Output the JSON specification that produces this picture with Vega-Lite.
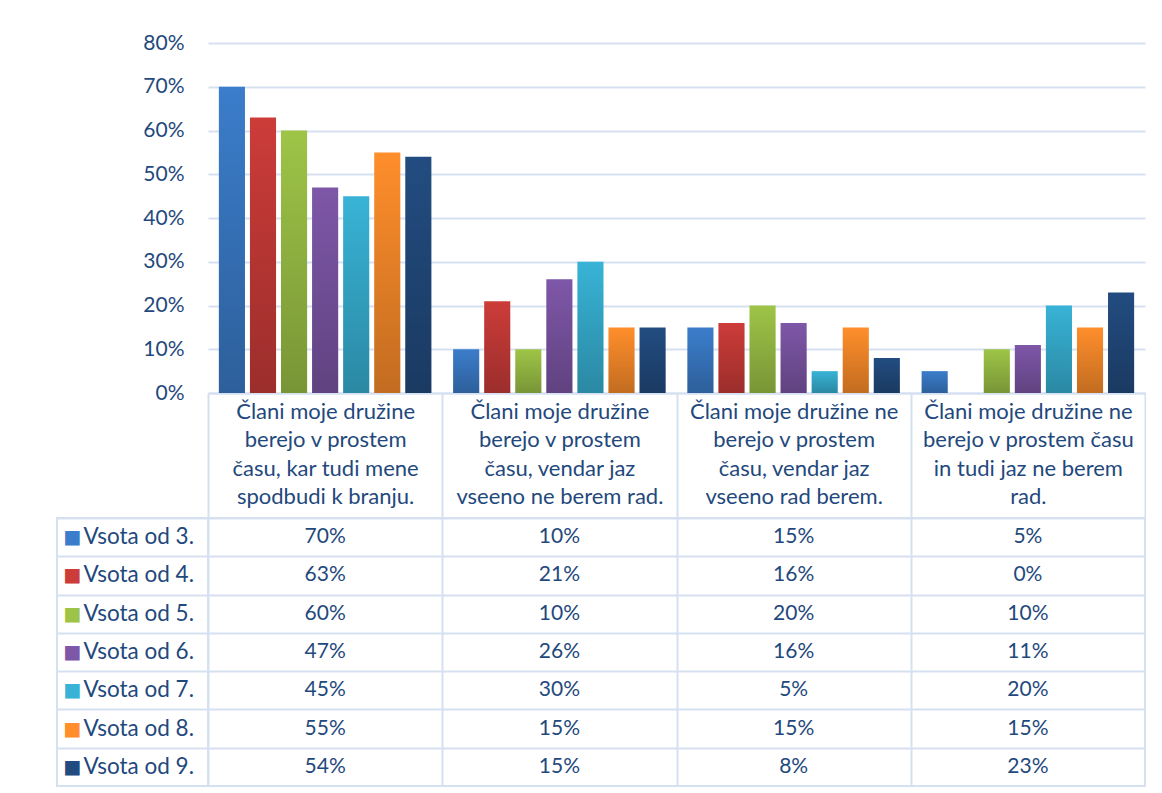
{
  "$schema": "https://vega.github.io/schema/vega-lite/v6.json",
  "padding": {"left": 56, "top": 32, "right": 0, "bottom": 0},
  "autosize": {"type": "pad"},
  "config": {"font": "Lato", "view": {"stroke": null}},
  "columns": 2,
  "spacing": {"row": 125, "column": 0},
  "bounds": "flush",
  "datasets": {
    "d": [
      {"cat": "Člani moje družine|berejo v prostem|času, kar tudi mene|spodbudi k branju.", "series": "Vsota od 3.", "value": 0.70},
      {"cat": "Člani moje družine|berejo v prostem|času, kar tudi mene|spodbudi k branju.", "series": "Vsota od 4.", "value": 0.63},
      {"cat": "Člani moje družine|berejo v prostem|času, kar tudi mene|spodbudi k branju.", "series": "Vsota od 5.", "value": 0.60},
      {"cat": "Člani moje družine|berejo v prostem|času, kar tudi mene|spodbudi k branju.", "series": "Vsota od 6.", "value": 0.47},
      {"cat": "Člani moje družine|berejo v prostem|času, kar tudi mene|spodbudi k branju.", "series": "Vsota od 7.", "value": 0.45},
      {"cat": "Člani moje družine|berejo v prostem|času, kar tudi mene|spodbudi k branju.", "series": "Vsota od 8.", "value": 0.55},
      {"cat": "Člani moje družine|berejo v prostem|času, kar tudi mene|spodbudi k branju.", "series": "Vsota od 9.", "value": 0.54},
      {"cat": "Člani moje družine|berejo v prostem|času, vendar jaz|vseeno ne berem rad.", "series": "Vsota od 3.", "value": 0.10},
      {"cat": "Člani moje družine|berejo v prostem|času, vendar jaz|vseeno ne berem rad.", "series": "Vsota od 4.", "value": 0.21},
      {"cat": "Člani moje družine|berejo v prostem|času, vendar jaz|vseeno ne berem rad.", "series": "Vsota od 5.", "value": 0.10},
      {"cat": "Člani moje družine|berejo v prostem|času, vendar jaz|vseeno ne berem rad.", "series": "Vsota od 6.", "value": 0.26},
      {"cat": "Člani moje družine|berejo v prostem|času, vendar jaz|vseeno ne berem rad.", "series": "Vsota od 7.", "value": 0.30},
      {"cat": "Člani moje družine|berejo v prostem|času, vendar jaz|vseeno ne berem rad.", "series": "Vsota od 8.", "value": 0.15},
      {"cat": "Člani moje družine|berejo v prostem|času, vendar jaz|vseeno ne berem rad.", "series": "Vsota od 9.", "value": 0.15},
      {"cat": "Člani moje družine ne|berejo v prostem|času, vendar jaz|vseeno rad berem.", "series": "Vsota od 3.", "value": 0.15},
      {"cat": "Člani moje družine ne|berejo v prostem|času, vendar jaz|vseeno rad berem.", "series": "Vsota od 4.", "value": 0.16},
      {"cat": "Člani moje družine ne|berejo v prostem|času, vendar jaz|vseeno rad berem.", "series": "Vsota od 5.", "value": 0.20},
      {"cat": "Člani moje družine ne|berejo v prostem|času, vendar jaz|vseeno rad berem.", "series": "Vsota od 6.", "value": 0.16},
      {"cat": "Člani moje družine ne|berejo v prostem|času, vendar jaz|vseeno rad berem.", "series": "Vsota od 7.", "value": 0.05},
      {"cat": "Člani moje družine ne|berejo v prostem|času, vendar jaz|vseeno rad berem.", "series": "Vsota od 8.", "value": 0.15},
      {"cat": "Člani moje družine ne|berejo v prostem|času, vendar jaz|vseeno rad berem.", "series": "Vsota od 9.", "value": 0.08},
      {"cat": "Člani moje družine ne|berejo v prostem času|in tudi jaz ne berem|rad.", "series": "Vsota od 3.", "value": 0.05},
      {"cat": "Člani moje družine ne|berejo v prostem času|in tudi jaz ne berem|rad.", "series": "Vsota od 4.", "value": 0.0},
      {"cat": "Člani moje družine ne|berejo v prostem času|in tudi jaz ne berem|rad.", "series": "Vsota od 5.", "value": 0.10},
      {"cat": "Člani moje družine ne|berejo v prostem času|in tudi jaz ne berem|rad.", "series": "Vsota od 6.", "value": 0.11},
      {"cat": "Člani moje družine ne|berejo v prostem času|in tudi jaz ne berem|rad.", "series": "Vsota od 7.", "value": 0.20},
      {"cat": "Člani moje družine ne|berejo v prostem času|in tudi jaz ne berem|rad.", "series": "Vsota od 8.", "value": 0.15},
      {"cat": "Člani moje družine ne|berejo v prostem času|in tudi jaz ne berem|rad.", "series": "Vsota od 9.", "value": 0.23}
    ]
  },
  "concat": [
    {
      "width": 151,
      "height": 350,
      "data": {"values": [{"t": ""}]},
      "mark": {"type": "text"},
      "encoding": {"text": {"field": "t", "type": "nominal"}}
    },
    {
      "width": 937,
      "height": 350,
      "data": {"name": "d"},
      "encoding": {
        "x": {
          "field": "cat",
          "type": "nominal",
          "sort": null,
          "scale": {"paddingInner": 0, "paddingOuter": 0},
          "axis": {
            "title": null,
            "labelExpr": "split(datum.label, '|')",
            "labelFontSize": 22,
            "labelColor": "#1F497D",
            "labelLineHeight": 28.5,
            "labelPadding": -117,
            "labelLimit": 400,
            "labelAngle": 0,
            "labelBaseline": "top",
            "tickBand": "extent",
            "tickSize": 125,
            "tickColor": "#D5E0F1",
            "tickWidth": 2,
            "domainColor": "#D5E0F1",
            "domainWidth": 2
          }
        },
        "xOffset": {
          "field": "series",
          "type": "nominal",
          "scale": {"paddingInner": 0.16, "paddingOuter": 0.35}
        },
        "y": {
          "field": "value",
          "type": "quantitative",
          "scale": {"domain": [0, 0.8]},
          "axis": {
            "title": null,
            "values": [0, 0.1, 0.2, 0.3, 0.4, 0.5, 0.6, 0.7, 0.8],
            "format": ".0%",
            "labelFontSize": 21,
            "labelColor": "#1F497D",
            "labelPadding": 24,
            "ticks": false,
            "domain": false,
            "grid": true,
            "gridColor": "#D5E0F1",
            "gridWidth": 2
          }
        }
      },
      "layer": [
        {
          "mark": {"type": "bar"},
          "encoding": {
            "color": {
              "field": "series",
              "type": "nominal",
              "legend": null,
              "scale": {"range": ["#3B7DCB", "#CC3C39", "#9EC447", "#7E57A8", "#38B3D6", "#FF8E2B", "#224C80"]}
            }
          }
        },
        {
          "mark": {
            "type": "bar",
            "color": {
              "gradient": "linear",
              "x1": 0, "y1": 0, "x2": 0, "y2": 1,
              "stops": [
                {"offset": 0, "color": "rgba(0,0,0,0)"},
                {"offset": 1, "color": "rgba(0,0,0,0.24)"}
              ]
            }
          }
        }
      ]
    },
    {
      "width": 151,
      "height": 268,
      "view": {"stroke": "#D5E0F1", "strokeWidth": 2},
      "data": {"name": "d"},
      "transform": [{"aggregate": [], "groupby": ["series"]}],
      "encoding": {
        "y": {
          "field": "series",
          "type": "nominal",
          "scale": {"paddingInner": 0, "paddingOuter": 0},
          "axis": {"title": null, "grid": true, "tickBand": "extent", "labels": false, "ticks": false, "domain": false, "gridColor": "#D5E0F1", "gridWidth": 2}
        }
      },
      "layer": [
        {
          "mark": {"type": "text", "text": "■", "align": "left", "baseline": "middle", "dx": -69, "font": "DejaVu Sans", "fontSize": 19},
          "encoding": {
            "color": {
              "field": "series",
              "type": "nominal",
              "legend": null,
              "scale": {"range": ["#346FB7", "#B93434", "#8DB041", "#704C95", "#329FBF", "#EC7F27", "#1D4272"]}
            }
          }
        },
        {
          "mark": {"type": "text", "align": "left", "baseline": "middle", "dx": -49, "fontSize": 22.5, "color": "#1F497D"},
          "encoding": {"text": {"field": "series", "type": "nominal"}}
        }
      ]
    },
    {
      "width": 937,
      "height": 268,
      "view": {"stroke": "#D5E0F1", "strokeWidth": 2},
      "data": {"name": "d"},
      "mark": {"type": "text", "fontSize": 21, "color": "#1F497D", "baseline": "middle"},
      "encoding": {
        "x": {
          "field": "cat",
          "type": "nominal",
          "sort": null,
          "scale": {"paddingInner": 0, "paddingOuter": 0},
          "axis": {"title": null, "grid": true, "tickBand": "extent", "labels": false, "ticks": false, "domain": false, "gridColor": "#D5E0F1", "gridWidth": 2}
        },
        "y": {
          "field": "series",
          "type": "nominal",
          "scale": {"paddingInner": 0, "paddingOuter": 0},
          "axis": {"title": null, "grid": true, "tickBand": "extent", "labels": false, "ticks": false, "domain": false, "gridColor": "#D5E0F1", "gridWidth": 2}
        },
        "text": {"field": "value", "type": "quantitative", "format": ".0%"}
      }
    }
  ]
}
